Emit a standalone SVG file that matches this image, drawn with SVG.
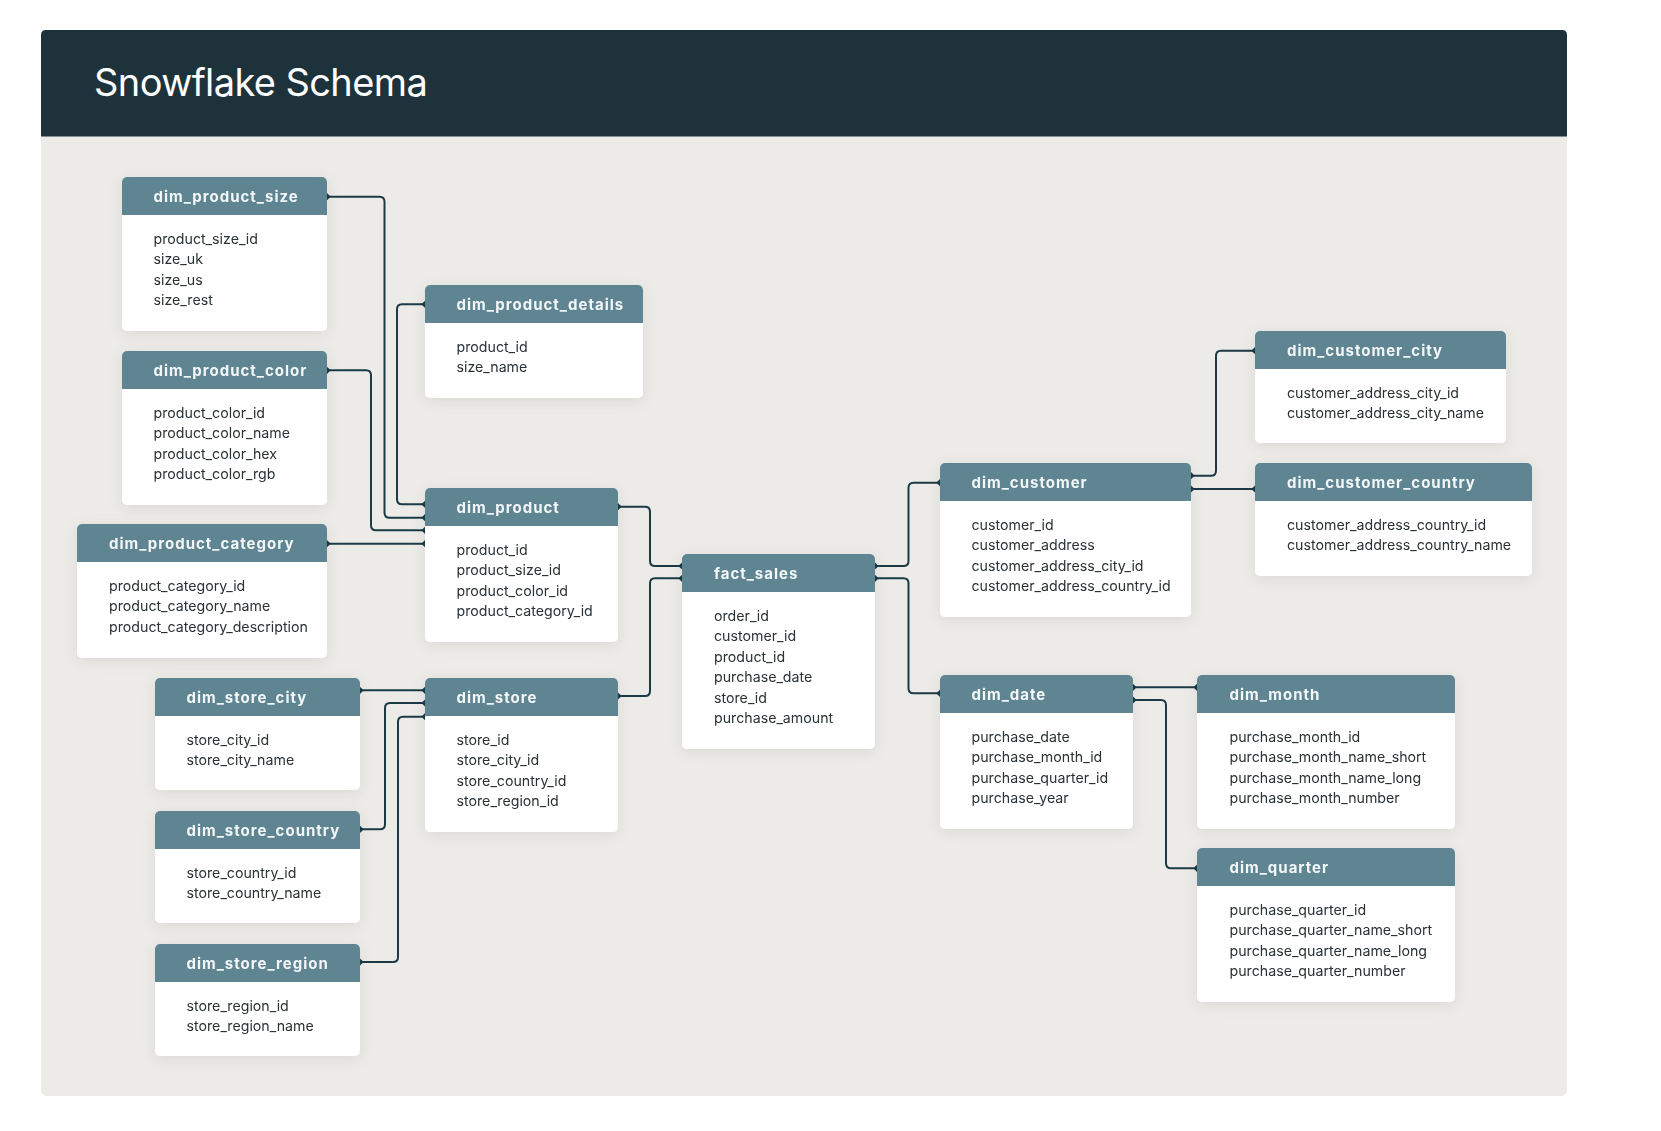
<svg xmlns="http://www.w3.org/2000/svg" width="1661" height="1131" viewBox="0 0 1661 1131">
  <defs>
    <style>
      .band { fill: #1e323b; }
      .panel { fill: #ecebe7; }
      .title { font-family: Inter, "Liberation Sans", sans-serif; font-size: 38px; font-weight: 400; fill: #ffffff; letter-spacing: -0.6px; }
      .body { fill: #ffffff; }
      .head { fill: #5f8593; }
      .tname { font-family: Inter, "Liberation Sans", sans-serif; font-size: 15px; font-weight: 700; fill: #f4f7f8; letter-spacing: 1px; }
      .field { font-family: Inter, "Liberation Sans", sans-serif; font-size: 14.2px; font-weight: 400; fill: #2a3034; }
      .link { fill: none; stroke: #1b3a45; stroke-width: 2; marker-start: url(#dot); marker-end: url(#dot); }
    </style>
    <marker id="dot" viewBox="-4 -4 8 8" refX="0" refY="0" markerWidth="8" markerHeight="8" markerUnits="userSpaceOnUse" orient="auto">
      <path d="M0,-3.6 L3.6,0 L0,3.6 L-3.6,0 Z" fill="#1b3a45"/>
    </marker>
    <filter id="shadow" x="-20%" y="-20%" width="140%" height="140%">
      <feDropShadow dx="0" dy="3" stdDeviation="7" flood-color="#000000" flood-opacity="0.08"/>
    </filter>
  </defs>

  <rect width="1661" height="1131" fill="#ffffff"/>
  <!-- page frame -->
  <rect class="panel" x="41" y="30" width="1526" height="1066" rx="5"/>
  <path class="band" d="M41,136.6 V35 Q41,30 46,30 H1562 Q1567,30 1567,35 V136.6 Z"/>
  <text class="title" x="94" y="96">Snowflake Schema</text>

  <!-- connectors -->
  <g id="connectors">
    <path class="link" d="M327,196.7 H379.5 Q384.5,196.7 384.5,201.7 V512.7 Q384.5,517.7 389.5,517.7 H425"/>
    <path class="link" d="M425,304.3 H402 Q397,304.3 397,309.3 V499.3 Q397,504.3 402,504.3 H425"/>
    <path class="link" d="M327,370.3 H366 Q371,370.3 371,375.3 V525.3 Q371,530.3 376,530.3 H425"/>
    <path class="link" d="M327,543.7 H425"/>
    <path class="link" d="M618,506.7 H645 Q650,506.7 650,511.7 V561 Q650,566 655,566 H682"/>
    <path class="link" d="M618,696 H645 Q650,696 650,691 V583.3 Q650,578.3 655,578.3 H682"/>
    <path class="link" d="M875,566 H903.5 Q908.5,566 908.5,561 V487.7 Q908.5,482.7 913.5,482.7 H940"/>
    <path class="link" d="M875,578.3 H903.5 Q908.5,578.3 908.5,583.3 V688.3 Q908.5,693.3 913.5,693.3 H940"/>
    <path class="link" d="M1191,475.7 H1211 Q1216,475.7 1216,470.7 V355.7 Q1216,350.7 1221,350.7 H1255"/>
    <path class="link" d="M1191,489 H1255"/>
    <path class="link" d="M1133,687.3 H1197"/>
    <path class="link" d="M1133,700 H1161 Q1166,700 1166,705 V863.3 Q1166,868.3 1171,868.3 H1197"/>
    <path class="link" d="M360,690.3 H425"/>
    <path class="link" d="M360,829.3 H380 Q385,829.3 385,824.3 V708 Q385,703 390,703 H425"/>
    <path class="link" d="M360,962 H393 Q398,962 398,957 V721.7 Q398,716.7 403,716.7 H425"/>
  </g>

  <!-- tables -->
  <g id="dim_product_size" filter="url(#shadow)">
    <rect class="body" x="122" y="177" width="205" height="154" rx="5"/>
    <rect class="head" x="122" y="177" width="205" height="38" rx="5"/>
    <rect class="head" x="122" y="205" width="205" height="10"/>
    <text class="tname" x="153.5" y="202">dim_product_size</text>
    <text class="field" x="153.5" y="243.5">product_size_id</text>
    <text class="field" x="153.5" y="264">size_uk</text>
    <text class="field" x="153.5" y="284.5">size_us</text>
    <text class="field" x="153.5" y="305">size_rest</text>
  </g>

  <g id="dim_product_color" filter="url(#shadow)">
    <rect class="body" x="122" y="351" width="205" height="154" rx="5"/>
    <rect class="head" x="122" y="351" width="205" height="38" rx="5"/>
    <rect class="head" x="122" y="379" width="205" height="10"/>
    <text class="tname" x="153.5" y="376">dim_product_color</text>
    <text class="field" x="153.5" y="417.5">product_color_id</text>
    <text class="field" x="153.5" y="438">product_color_name</text>
    <text class="field" x="153.5" y="458.5">product_color_hex</text>
    <text class="field" x="153.5" y="479">product_color_rgb</text>
  </g>

  <g id="dim_product_category" filter="url(#shadow)">
    <rect class="body" x="77" y="524" width="250" height="134" rx="5"/>
    <rect class="head" x="77" y="524" width="250" height="38" rx="5"/>
    <rect class="head" x="77" y="552" width="250" height="10"/>
    <text class="tname" x="109" y="549">dim_product_category</text>
    <text class="field" x="109" y="590.5">product_category_id</text>
    <text class="field" x="109" y="611">product_category_name</text>
    <text class="field" x="109" y="631.5">product_category_description</text>
  </g>

  <g id="dim_product_details" filter="url(#shadow)">
    <rect class="body" x="425" y="285" width="218" height="113" rx="5"/>
    <rect class="head" x="425" y="285" width="218" height="38" rx="5"/>
    <rect class="head" x="425" y="313" width="218" height="10"/>
    <text class="tname" x="456.5" y="310">dim_product_details</text>
    <text class="field" x="456.5" y="351.5">product_id</text>
    <text class="field" x="456.5" y="372">size_name</text>
  </g>

  <g id="dim_product" filter="url(#shadow)">
    <rect class="body" x="425" y="488" width="193" height="154" rx="5"/>
    <rect class="head" x="425" y="488" width="193" height="38" rx="5"/>
    <rect class="head" x="425" y="516" width="193" height="10"/>
    <text class="tname" x="456.5" y="513">dim_product</text>
    <text class="field" x="456.5" y="554.5">product_id</text>
    <text class="field" x="456.5" y="575">product_size_id</text>
    <text class="field" x="456.5" y="595.5">product_color_id</text>
    <text class="field" x="456.5" y="616">product_category_id</text>
  </g>

  <g id="dim_store_city" filter="url(#shadow)">
    <rect class="body" x="155" y="678" width="205" height="112" rx="5"/>
    <rect class="head" x="155" y="678" width="205" height="38" rx="5"/>
    <rect class="head" x="155" y="706" width="205" height="10"/>
    <text class="tname" x="186.5" y="703">dim_store_city</text>
    <text class="field" x="186.5" y="744.5">store_city_id</text>
    <text class="field" x="186.5" y="765">store_city_name</text>
  </g>

  <g id="dim_store_country" filter="url(#shadow)">
    <rect class="body" x="155" y="811" width="205" height="112" rx="5"/>
    <rect class="head" x="155" y="811" width="205" height="38" rx="5"/>
    <rect class="head" x="155" y="839" width="205" height="10"/>
    <text class="tname" x="186.5" y="836">dim_store_country</text>
    <text class="field" x="186.5" y="877.5">store_country_id</text>
    <text class="field" x="186.5" y="898">store_country_name</text>
  </g>

  <g id="dim_store_region" filter="url(#shadow)">
    <rect class="body" x="155" y="944" width="205" height="112" rx="5"/>
    <rect class="head" x="155" y="944" width="205" height="38" rx="5"/>
    <rect class="head" x="155" y="972" width="205" height="10"/>
    <text class="tname" x="186.5" y="969">dim_store_region</text>
    <text class="field" x="186.5" y="1010.5">store_region_id</text>
    <text class="field" x="186.5" y="1031">store_region_name</text>
  </g>

  <g id="dim_store" filter="url(#shadow)">
    <rect class="body" x="425" y="678" width="193" height="154" rx="5"/>
    <rect class="head" x="425" y="678" width="193" height="38" rx="5"/>
    <rect class="head" x="425" y="706" width="193" height="10"/>
    <text class="tname" x="456.5" y="703">dim_store</text>
    <text class="field" x="456.5" y="744.5">store_id</text>
    <text class="field" x="456.5" y="765">store_city_id</text>
    <text class="field" x="456.5" y="785.5">store_country_id</text>
    <text class="field" x="456.5" y="806">store_region_id</text>
  </g>

  <g id="fact_sales" filter="url(#shadow)">
    <rect class="body" x="682" y="554" width="193" height="195" rx="5"/>
    <rect class="head" x="682" y="554" width="193" height="38" rx="5"/>
    <rect class="head" x="682" y="582" width="193" height="10"/>
    <text class="tname" x="714" y="579">fact_sales</text>
    <text class="field" x="714" y="620.5">order_id</text>
    <text class="field" x="714" y="641">customer_id</text>
    <text class="field" x="714" y="661.5">product_id</text>
    <text class="field" x="714" y="682">purchase_date</text>
    <text class="field" x="714" y="702.5">store_id</text>
    <text class="field" x="714" y="723">purchase_amount</text>
  </g>

  <g id="dim_customer" filter="url(#shadow)">
    <rect class="body" x="940" y="463" width="251" height="154" rx="5"/>
    <rect class="head" x="940" y="463" width="251" height="38" rx="5"/>
    <rect class="head" x="940" y="491" width="251" height="10"/>
    <text class="tname" x="971.5" y="488">dim_customer</text>
    <text class="field" x="971.5" y="529.5">customer_id</text>
    <text class="field" x="971.5" y="550">customer_address</text>
    <text class="field" x="971.5" y="570.5">customer_address_city_id</text>
    <text class="field" x="971.5" y="591">customer_address_country_id</text>
  </g>

  <g id="dim_customer_city" filter="url(#shadow)">
    <rect class="body" x="1255" y="331" width="251" height="112" rx="5"/>
    <rect class="head" x="1255" y="331" width="251" height="38" rx="5"/>
    <rect class="head" x="1255" y="359" width="251" height="10"/>
    <text class="tname" x="1287" y="356">dim_customer_city</text>
    <text class="field" x="1287" y="397.5">customer_address_city_id</text>
    <text class="field" x="1287" y="418">customer_address_city_name</text>
  </g>

  <g id="dim_customer_country" filter="url(#shadow)">
    <rect class="body" x="1255" y="463" width="277" height="113" rx="5"/>
    <rect class="head" x="1255" y="463" width="277" height="38" rx="5"/>
    <rect class="head" x="1255" y="491" width="277" height="10"/>
    <text class="tname" x="1287" y="488">dim_customer_country</text>
    <text class="field" x="1287" y="529.5">customer_address_country_id</text>
    <text class="field" x="1287" y="550">customer_address_country_name</text>
  </g>

  <g id="dim_date" filter="url(#shadow)">
    <rect class="body" x="940" y="675" width="193" height="154" rx="5"/>
    <rect class="head" x="940" y="675" width="193" height="38" rx="5"/>
    <rect class="head" x="940" y="703" width="193" height="10"/>
    <text class="tname" x="971.5" y="700">dim_date</text>
    <text class="field" x="971.5" y="741.5">purchase_date</text>
    <text class="field" x="971.5" y="762">purchase_month_id</text>
    <text class="field" x="971.5" y="782.5">purchase_quarter_id</text>
    <text class="field" x="971.5" y="803">purchase_year</text>
  </g>

  <g id="dim_month" filter="url(#shadow)">
    <rect class="body" x="1197" y="675" width="258" height="154" rx="5"/>
    <rect class="head" x="1197" y="675" width="258" height="38" rx="5"/>
    <rect class="head" x="1197" y="703" width="258" height="10"/>
    <text class="tname" x="1229.5" y="700">dim_month</text>
    <text class="field" x="1229.5" y="741.5">purchase_month_id</text>
    <text class="field" x="1229.5" y="762">purchase_month_name_short</text>
    <text class="field" x="1229.5" y="782.5">purchase_month_name_long</text>
    <text class="field" x="1229.5" y="803">purchase_month_number</text>
  </g>

  <g id="dim_quarter" filter="url(#shadow)">
    <rect class="body" x="1197" y="848" width="258" height="154" rx="5"/>
    <rect class="head" x="1197" y="848" width="258" height="38" rx="5"/>
    <rect class="head" x="1197" y="876" width="258" height="10"/>
    <text class="tname" x="1229.5" y="873">dim_quarter</text>
    <text class="field" x="1229.5" y="914.5">purchase_quarter_id</text>
    <text class="field" x="1229.5" y="935">purchase_quarter_name_short</text>
    <text class="field" x="1229.5" y="955.5">purchase_quarter_name_long</text>
    <text class="field" x="1229.5" y="976">purchase_quarter_number</text>
  </g>
</svg>
